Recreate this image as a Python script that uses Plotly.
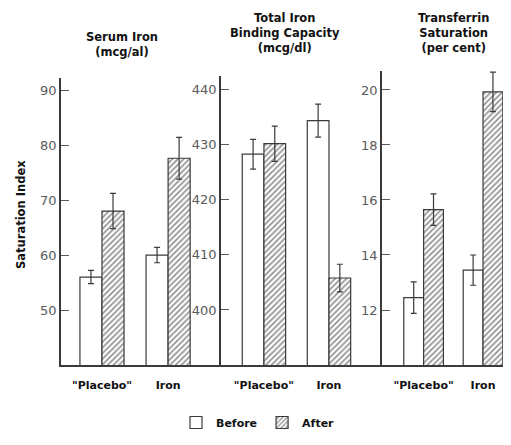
import plotly.graph_objects as go

# The page body has an 8px default margin; size the figure to fit the window.
OFF = 8
W, H = 511 - 2 * OFF, 445 - 2 * OFF

categories = ['"Placebo"', 'Iron']

serum_before = [56.0, 60.0]
serum_before_err = [1.2, 1.4]
serum_after = [68.0, 77.6]
serum_after_err = [3.2, 3.8]

tibc_before = [428.3, 434.4]
tibc_before_err = [2.7, 3.0]
tibc_after = [430.2, 405.8]
tibc_after_err = [3.2, 2.5]

tsat_before = [12.45, 13.45]
tsat_before_err = [0.57, 0.55]
tsat_after = [15.65, 19.93]
tsat_after_err = [0.57, 0.72]

panel_titles = [
    "Serum Iron<br>(mcg/al)",
    "Total Iron<br>Binding Capacity<br>(mcg/dl)",
    "Transferrin<br>Saturation<br>(per cent)",
]
tick_sets = [
    [50, 60, 70, 80, 90],
    [400, 410, 420, 430, 440],
    [12, 14, 16, 18, 20],
]
y_ranges = [[40, 92.2], [390, 442.5], [10, 20.69]]

LINE = "#3a3a3a"
TICKC = "#5a5a5a"
FONT = "DejaVu Sans"

def px(x):
    return (x - OFF) / W

def py(y):
    return (H - (y - OFF)) / H

x_domains = [[px(61), px(221)], [px(221), px(382)], [px(382), 1.0]]
x_ranges = [[-0.62, 1.80], [-0.66, 1.815], [-0.70, 1.336]]
y_domains = [[py(365), py(78)], [py(365), py(76)], [py(365), py(71)]]

data = [
    (serum_before, serum_before_err, serum_after, serum_after_err),
    (tibc_before, tibc_before_err, tibc_after, tibc_after_err),
    (tsat_before, tsat_before_err, tsat_after, tsat_after_err),
]

fig = go.Figure()
for i, (b, be, a, ae) in enumerate(data):
    xa = "x" if i == 0 else f"x{i+1}"
    ya = "y" if i == 0 else f"y{i+1}"
    err_style = dict(type="data", color=LINE, thickness=1.2, width=3, visible=True)
    fig.add_trace(go.Bar(
        x=categories, y=b, name="Before", xaxis=xa, yaxis=ya,
        marker=dict(color="white", line=dict(color=LINE, width=1.2)),
        error_y=dict(array=be, **err_style),
        showlegend=(i == 0), legendgroup="before",
    ))
    fig.add_trace(go.Bar(
        x=categories, y=a, name="After", xaxis=xa, yaxis=ya,
        marker=dict(color="white", line=dict(color=LINE, width=1.2),
                    pattern=dict(shape="/", size=4, solidity=0.45,
                                 fgcolor="#2a2a2a", bgcolor="white")),
        error_y=dict(array=ae, **err_style),
        showlegend=(i == 0), legendgroup="after",
    ))

layout = dict(
    width=W, height=H,
    margin=dict(l=0, r=0, t=0, b=0),
    paper_bgcolor="white", plot_bgcolor="white",
    barmode="group", bargap=0.333, bargroupgap=0,
    font=dict(family=FONT, color="#111"),
    legend=dict(orientation="h", x=px(258), xanchor="center", y=0.0, yanchor="bottom",
                font=dict(size=11, family=FONT, weight="bold"), itemwidth=30,
                traceorder="normal"),
)
for i in range(3):
    xk = "xaxis" if i == 0 else f"xaxis{i+1}"
    yk = "yaxis" if i == 0 else f"yaxis{i+1}"
    ya = "y" if i == 0 else f"y{i+1}"
    xa = "x" if i == 0 else f"x{i+1}"
    layout[xk] = dict(
        domain=x_domains[i], anchor=ya, type="category",
        categoryorder="array", categoryarray=categories,
        range=x_ranges[i], showline=True, linecolor=LINE, linewidth=1.5,
        ticks="", showgrid=False, zeroline=False, ticklabelstandoff=9,
        tickfont=dict(size=11, family=FONT, color="#111", weight="bold"),
    )
    layout[yk] = dict(
        domain=y_domains[i], anchor=xa, range=y_ranges[i], tickvals=tick_sets[i],
        showline=True, linecolor=LINE, linewidth=1.5,
        ticks="inside", ticklen=8, tickwidth=1.2, tickcolor=TICKC,
        showgrid=False, zeroline=False,
        tickfont=dict(size=13, family=FONT, color=TICKC),
    )
fig.update_layout(**layout)

title_pos = [(122, 45), (285, 33), (453, 33)]
for t, (cx, cy) in zip(panel_titles, title_pos):
    fig.add_annotation(text=t, x=px(cx), y=py(cy), xref="paper", yref="paper",
                       showarrow=False, xanchor="center", yanchor="middle",
                       font=dict(size=11.5, family=FONT, color="#111", weight="bold"))

fig.add_annotation(text="Saturation Index", x=px(21), y=py(215), xref="paper", yref="paper",
                   showarrow=False, textangle=-90, xanchor="center", yanchor="middle",
                   font=dict(size=11.5, family=FONT, color="#111", weight="bold"))

fig.write_html("out.html")
